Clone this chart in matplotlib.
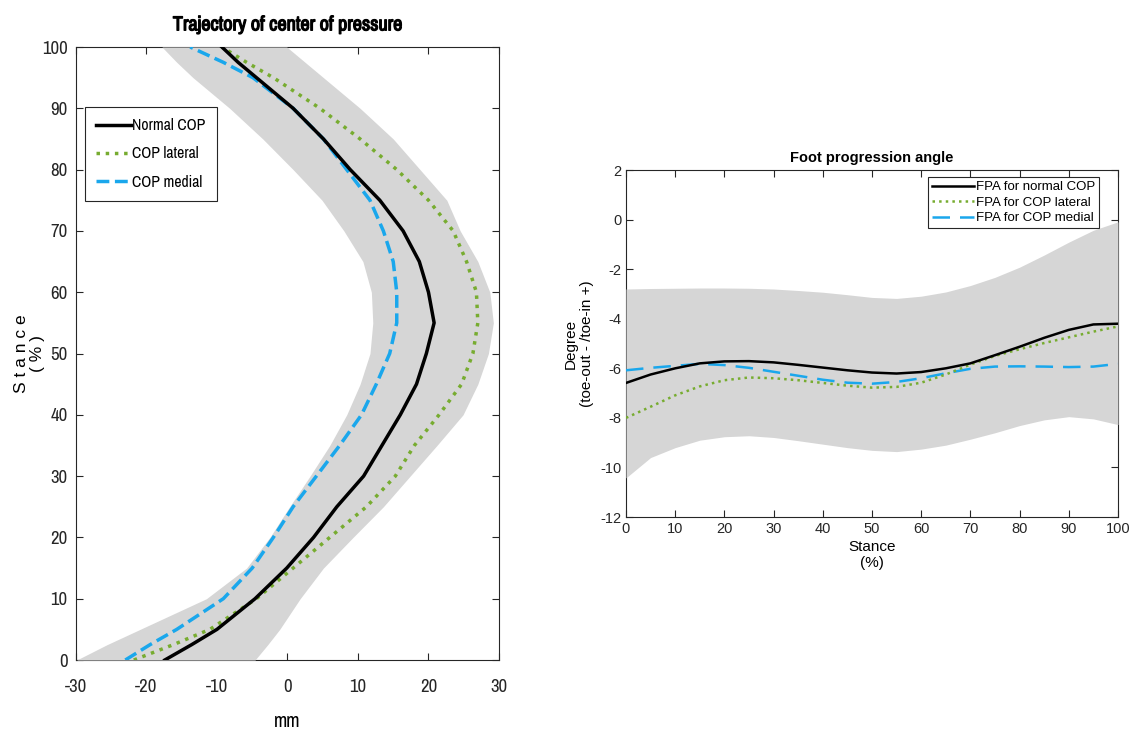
import numpy as np
import matplotlib
matplotlib.use("Agg")
from matplotlib import pyplot as plt
from matplotlib import font_manager
from matplotlib import patheffects

plt.rcParams["axes.unicode_minus"] = False

# ---- left panel: COP trajectory (mm vs stance %) ----
stance_pct = [0, 2.5, 5, 10, 15, 20, 25, 30, 35, 40, 45, 50, 55, 60, 65, 70, 75, 80, 85, 90, 95, 97.5, 100]
cop_normal = [-17.4, -13.6, -10.0, -4.6, -0.1, 3.7, 7.0, 10.8, 13.4, 16.0, 18.3, 19.7, 20.8, 20.0, 18.7, 16.4, 13.1, 8.9, 5.1, 0.8, -4.4, -7.0, -9.3]
cop_lateral = [-21.8, -16.2, -11.0, -4.4, 0.8, 6.0, 11.2, 15.3, 18.0, 21.5, 24.7, 26.3, 27.0, 26.8, 25.4, 23.5, 20.0, 15.5, 10.3, 4.6, -2.0, -5.8, -9.3]
cop_medial = [-23.0, -19.5, -15.7, -9.1, -5.0, -2.0, 0.8, 4.1, 7.4, 10.5, 12.6, 14.5, 15.5, 15.5, 15.0, 13.6, 11.7, 8.4, 5.1, 0.8, -4.9, -9.1, -13.8]
cop_band_lo = [-29.9, -25.6, -20.9, -11.5, -5.8, -2.5, 0.3, 3.2, 6.0, 8.4, 10.3, 11.7, 12.1, 11.9, 10.7, 8.0, 4.9, 0.8, -3.5, -8.2, -13.4, -15.7, -17.8]
cop_band_hi = [-4.6, -2.8, -1.1, 1.8, 5.1, 9.3, 13.6, 17.4, 21.2, 24.9, 27.0, 28.5, 29.2, 28.7, 27.0, 24.5, 22.6, 18.8, 15.0, 10.3, 5.1, 2.5, -0.1]

# ---- right panel: foot progression angle (deg vs stance %) ----
fpa_stance = [0, 5, 10, 15, 20, 25, 30, 35, 40, 45, 50, 55, 60, 65, 70, 75, 80, 85, 90, 95, 100]
fpa_normal = [-6.59, -6.25, -6.0, -5.8, -5.72, -5.71, -5.76, -5.86, -5.97, -6.08, -6.17, -6.21, -6.15, -6.0, -5.80, -5.47, -5.13, -4.77, -4.45, -4.23, -4.2]
fpa_lateral = [-8.0, -7.55, -7.09, -6.73, -6.48, -6.37, -6.40, -6.48, -6.59, -6.70, -6.78, -6.75, -6.58, -6.25, -5.85, -5.5, -5.23, -4.98, -4.75, -4.52, -4.31]
fpa_medial = [-6.08, -5.98, -5.90, -5.82, -5.87, -5.98, -6.14, -6.30, -6.46, -6.58, -6.62, -6.55, -6.40, -6.2, -6.02, -5.93, -5.92, -5.93, -5.95, -5.93, -5.82]
fpa_band_hi = [-2.80, -2.78, -2.77, -2.76, -2.76, -2.77, -2.80, -2.86, -2.93, -3.03, -3.14, -3.18, -3.09, -2.92, -2.66, -2.33, -1.92, -1.43, -0.91, -0.43, -0.09]
fpa_band_lo = [-10.42, -9.6, -9.2, -8.9, -8.76, -8.72, -8.79, -8.92, -9.06, -9.2, -9.31, -9.36, -9.26, -9.1, -8.86, -8.6, -8.31, -8.08, -7.95, -8.04, -8.27]

GRAY = "#d6d6d6"
GREEN = "#77ac30"
BLUE = "#1aa7ec"
ARIAL = ["Liberation Sans", "DejaVu Sans"]

# MATLAB used a narrow font in the left panel; take a condensed face if one is installed
narrow_names = sorted({f.name for f in font_manager.fontManager.ttflist
                       if f.stretch in ("condensed", "semi-condensed", "extra-condensed")
                       or "Narrow" in f.name or "Condensed" in f.name})
if "Liberation Sans Narrow" in narrow_names:
    NARROW = dict(family=["Liberation Sans Narrow"], stretch="normal")
elif narrow_names:
    NARROW = dict(family=[narrow_names[0]], stretch="condensed")
else:
    NARROW = dict(family=ARIAL, stretch="normal")

fig = plt.figure(figsize=(11.32, 7.31), dpi=100)

def matlab_box(ax):
    for sp in ax.spines.values():
        sp.set_color("#262626")
        sp.set_linewidth(0.8)
    ax.tick_params(direction="in", top=True, right=True, length=5, width=0.8, colors="#262626")

# left
ax1 = fig.add_axes([0.0671, 0.0971, 0.3737, 0.8386])
ax1.fill_betweenx(stance_pct, cop_band_lo, cop_band_hi, color=GRAY, lw=0, zorder=2.6)
ax1.plot(cop_normal, stance_pct, color="black", lw=2.5, label="Normal COP", zorder=3.2)
ax1.plot(cop_lateral, stance_pct, color=GREEN, lw=2.5, ls=":", label="COP lateral", zorder=3.1)
ax1.plot(cop_medial, stance_pct, color=BLUE, lw=2.5, ls="--", label="COP medial", zorder=3.0)
ax1.set_xlim(-30, 30)
ax1.set_ylim(0, 100)
ax1.set_xticks(range(-30, 31, 10))
ax1.set_yticks(range(0, 101, 10))
matlab_box(ax1)
ax1.tick_params(axis="x", pad=14)
ax1.tick_params(axis="y", pad=6)
for lab in ax1.get_xticklabels() + ax1.get_yticklabels():
    lab.set_family(NARROW["family"])
    lab.set_stretch(NARROW["stretch"])
    lab.set_fontsize(13.5)
# condensed face has no bold cut here, so thicken the glyphs with a stroke
ttl = ax1.set_title("Trajectory of center of pressure", fontsize=14.5, fontweight="bold", pad=12, **NARROW)
ttl.set_path_effects([patheffects.withStroke(linewidth=0.9, foreground="black")])
ax1.set_xlabel("mm", fontsize=14, labelpad=12, **NARROW)
ax1.set_ylabel("S t a n c e\n( % )", family=ARIAL, fontsize=12.5, linespacing=1.15)
ax1.yaxis.set_label_coords(-0.072, 0.5)
leg1 = ax1.legend(loc="upper left", bbox_to_anchor=(0.022, 0.902),
                  prop={"family": NARROW["family"], "stretch": NARROW["stretch"], "size": 11.3},
                  fancybox=False, edgecolor="#262626", framealpha=1, handlelength=2.2,
                  handletextpad=0.1, borderpad=0.7, labelspacing=0.85, borderaxespad=0)
leg1.get_frame().set_linewidth(0.8)

# right
ax2 = fig.add_axes([0.553, 0.2927, 0.4346, 0.4747])
ax2.fill_between(fpa_stance, fpa_band_lo, fpa_band_hi, color=GRAY, lw=0, zorder=2.6)
ax2.plot(fpa_stance, fpa_normal, color="black", lw=1.8, label="FPA for normal COP", zorder=3.2)
ax2.plot(fpa_stance, fpa_lateral, color=GREEN, lw=1.8, ls=":", label="FPA for COP lateral", zorder=3.1)
ax2.plot(fpa_stance, fpa_medial, color=BLUE, lw=1.8, ls=(0, (7, 4)), label="FPA for COP medial", zorder=3.0)
ax2.set_xlim(0, 100)
ax2.set_ylim(-12, 2)
ax2.set_xticks(range(0, 101, 10))
ax2.set_yticks(range(-12, 3, 2))
matlab_box(ax2)
ax2.tick_params(labelsize=10.5)
for lab in ax2.get_xticklabels() + ax2.get_yticklabels():
    lab.set_family(ARIAL)
ax2.set_title("Foot progression angle", family=ARIAL, fontsize=10.5, fontweight="bold", pad=6)
ax2.set_xlabel("Stance\n(%)", family=ARIAL, fontsize=11, labelpad=3)
ax2.set_ylabel("Degree\n(toe-out - /toe-in +)", family=ARIAL, fontsize=11, labelpad=4)
leg2 = ax2.legend(loc="upper right", bbox_to_anchor=(0.961, 0.98), prop={"family": ARIAL, "size": 9.5},
                  fancybox=False, edgecolor="#262626", framealpha=1, handlelength=3.2,
                  handletextpad=0.1, borderpad=0.3, labelspacing=0.25, borderaxespad=0)
leg2.get_frame().set_linewidth(0.8)

fig.savefig("out.png", dpi=100)
